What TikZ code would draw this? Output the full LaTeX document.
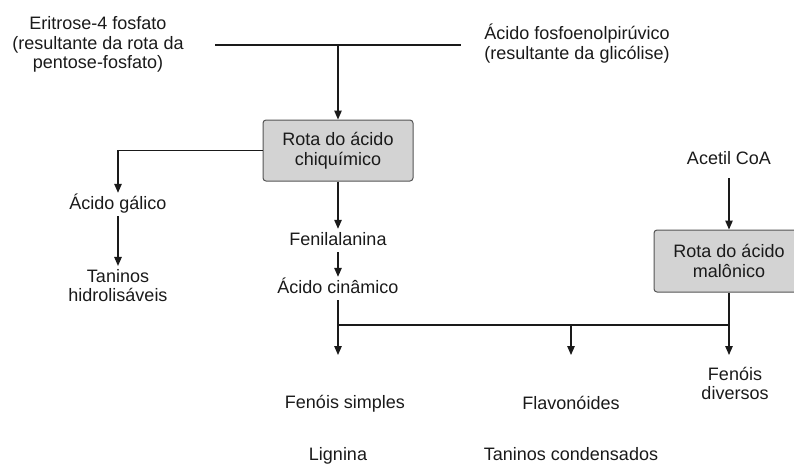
\documentclass[tikz,border=0pt]{standalone}
\usepackage{fontspec}
\setmainfont{Liberation Sans}
\usetikzlibrary{arrows.meta}
\definecolor{boxfill}{HTML}{D3D3D3}
\definecolor{boxline}{HTML}{555555}
\definecolor{ink}{HTML}{1A1A1A}
\begin{document}
\begin{tikzpicture}[x=1pt,y=-1pt,
  font=\fontsize{18pt}{19.5pt}\selectfont,
  every node/.style={text=ink},
  lbl/.style={inner xsep=2pt,inner ysep=3pt,text height=13pt,text depth=4pt},
  mlbl/.style={inner xsep=2pt,inner ysep=3pt,align=center},
  pathbox/.style={draw=boxline,fill=boxfill,rounded corners=3pt,line width=1pt,
    minimum width=150pt,align=center},
  conn/.style={draw=ink,line width=1.2pt},
  arr/.style={conn,-{Triangle[length=9pt,width=7.5pt]}}]
\useasboundingbox (0,0) rectangle (794,464);
\clip (0,0) rectangle (794,464);
% source texts
\node[mlbl] (eri) at (98,44.5) {Eritrose-4 fosfato\\(resultante da rota da\\pentose-fosfato)};
\node[mlbl] (afp) at (577,43.5) {Ácido fosfoenolpirúvico\\(resultante da glicólise)};
\coordinate (tl) at (215,45);
\coordinate (tr) at (461,45);
\coordinate (tj) at (338,45);
% boxes
\node[pathbox,minimum height=61pt] (chiq) at (338,150.5) {Rota do ácido\\chiquímico};
\node[pathbox,minimum height=62pt] (malo) at (729,261) {Rota do ácido\\malônico};
% labels
\node[lbl] (acetil) at (729,159.5) {Acetil CoA};
\node[lbl] (galico) at (118,204.5) {Ácido gálico};
\node[mlbl] (tanh) at (118,285.5) {Taninos\\hidrolisáveis};
\node[lbl] (fenil) at (338,240.5) {Fenilalanina};
\node[lbl] (cinam) at (338,288.5) {Ácido cinâmico};
\node[lbl] (fsimp) at (345,403.5) {Fenóis simples};
\node[lbl] (flav) at (571,404.5) {Flavonóides};
\node[mlbl] (fdiv) at (735,383.5) {Fenóis\\diversos};
\node[lbl,inner ysep=0pt] (lign) at (338,455.5) {Lignina};
\node[lbl,inner ysep=0pt] (tcond) at (571,455.5) {Taninos condensados};
% connectors
\draw[conn] (tl) -- (tr);
\draw[arr] (tj) -- (chiq.north);
\draw[arr] (chiq.west) -| (galico.north);
\draw[arr] (galico.south) -- (tanh.north);
\draw[arr] (chiq.south) -- (fenil.north);
\draw[arr] (fenil.south) -- (cinam.north);
\draw[arr,shorten <=7pt] (acetil.south) -- (malo.north);
\coordinate (jl) at (338,325);
\coordinate (jm) at (571,325);
\coordinate (jr) at (729,325);
\coordinate (el) at (338,355);
\coordinate (em) at (571,355);
\coordinate (er) at (729,355);
\draw[conn] (cinam.south) -- (jl);
\draw[conn] (malo.south) -- (jr);
\draw[conn] (jl) -- (jr);
\draw[arr] (jl) -- (el);
\draw[arr] (jm) -- (em);
\draw[arr] (jr) -- (er);
\end{tikzpicture}
\end{document}
